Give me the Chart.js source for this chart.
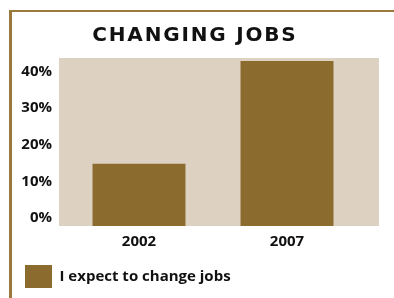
<!DOCTYPE html>
<html><head><meta charset="utf-8">
<script src="https://cdn.jsdelivr.net/npm/chart.js@4/dist/chart.umd.min.js"></script>
<style>
html,body{margin:0;padding:0;background:#fff;}
#wrap{position:relative;width:394px;height:298px;overflow:hidden;}
#frame{position:absolute;left:9px;top:10px;width:385px;height:288px;border-top:2px solid #9A7A3C;border-left:3px solid #9A7A3C;box-sizing:border-box;}
canvas{position:absolute;left:0;top:0;}
</style></head><body>
<div id="wrap"><div id="frame"></div><canvas id="c" width="394" height="298"></canvas></div>
<script>
const titleText = 'CHANGING JOBS';
const categories = ['2002', '2007'];
const seriesName = 'I expect to change jobs';
const values = [17, 45];
const yTickValues = [0, 10, 20, 30, 40];

const BAR = '#8B6B2E';
const PLOT_BG = '#DDD1C1';
const TXT = '#111111';
const FONT = "'Open Sans', 'Noto Sans', sans-serif";
const TITLE_FONT = "'DejaVu Sans', sans-serif";

const plotBg = {
  id: 'plotBg',
  beforeDatasetsDraw(chart, args, opts) {
    const {ctx, chartArea: a} = chart;
    ctx.save();
    ctx.fillStyle = PLOT_BG;
    const l = a.left - opts.extendLeft, r = a.right + opts.extendRight;
    ctx.fillRect(l, a.top, r - l, a.bottom - a.top);
    ctx.restore();
  }
};
const spacedTitle = {
  id: 'spacedTitle',
  afterDraw(chart, args, opts) {
    const {ctx} = chart;
    ctx.save();
    ctx.font = 'bold 20px ' + TITLE_FONT;
    ctx.fillStyle = TXT;
    ctx.letterSpacing = opts.spacing + 'px';
    ctx.textAlign = 'center';
    ctx.textBaseline = 'alphabetic';
    ctx.fillText(opts.text, chart.width / 2 + opts.spacing / 2 - 3, 41);
    ctx.restore();
  }
};

new Chart(document.getElementById('c'), {
  type: 'bar',
  data: {
    labels: categories,
    datasets: [{
      label: seriesName,
      data: values,
      backgroundColor: BAR,
      borderWidth: 0,
      barPercentage: 0.628,
      categoryPercentage: 1
    }]
  },
  plugins: [plotBg, spacedTitle],
  options: {
    responsive: false,
    animation: false,
    layout: {padding: {top: 58, left: 15, right: 33, bottom: 0}},
    scales: {
      x: {
        grid: {display: false, drawTicks: false},
        border: {display: false},
        afterFit: s => { s.height = 29; },
        ticks: {
          padding: 7,
          color: TXT,
          font: {family: FONT, size: 15, weight: 'bold'}
        }
      },
      y: {
        min: 0, max: 45.8,
        grid: {display: false, drawTicks: false},
        border: {display: false},
        afterBuildTicks: s => { s.ticks = yTickValues.map(v => ({value: v})); },
        afterFit: s => { s.width = 50; },
        ticks: {
          padding: 13,
          labelOffset: -8,
          color: TXT,
          font: {family: FONT, size: 15, weight: 'bold'},
          callback: v => v + '%'
        }
      }
    },
    plugins: {
      title: {display: false},
      tooltip: {enabled: false},
      plotBg: {extendLeft: 6, extendRight: 18},
      spacedTitle: {text: titleText, spacing: 1.8},
      legend: {
        position: 'bottom',
        align: 'start',
        labels: {
          boxWidth: 27, boxHeight: 23, padding: 10,
          color: TXT,
          font: {family: FONT, size: 15, weight: 'bold'}
        }
      }
    }
  }
});
</script>
</body></html>
